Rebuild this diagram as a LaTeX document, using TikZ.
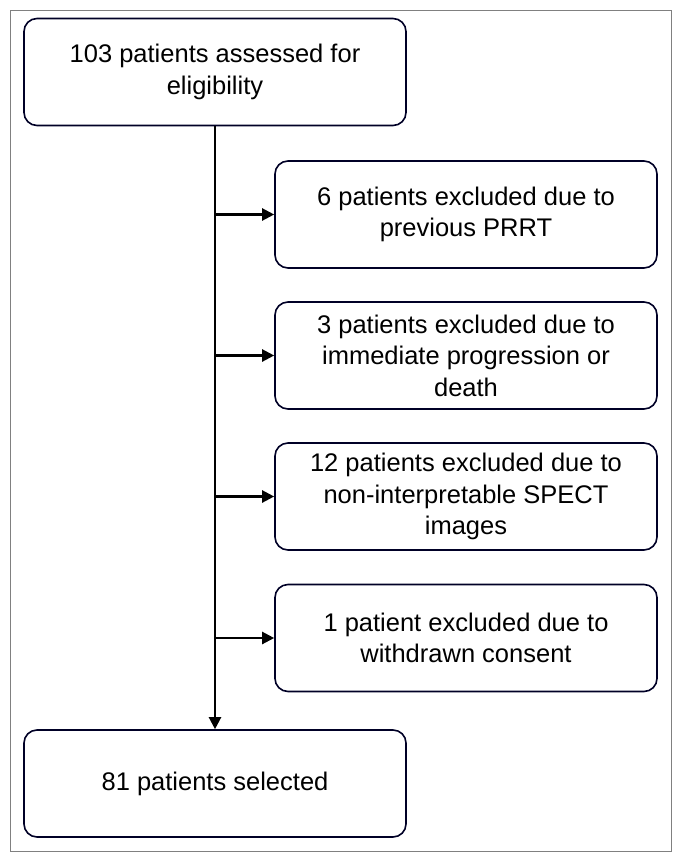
\documentclass[tikz,border=0pt]{standalone}
\usepackage{fontspec}
\setmainfont{Liberation Sans}
\usetikzlibrary{arrows.meta}
\begin{document}
\begin{tikzpicture}[x=1pt,y=-1pt,
  box/.style={draw=black!85!blue,line width=1.6pt,rounded corners=13pt,minimum width=382pt,minimum height=107pt,align=center,font=\fontsize{25.5}{31.5}\selectfont,inner sep=0pt},
  arr/.style={line width=2.2pt,-{Triangle[length=12pt,width=12pt]}}]
\useasboundingbox (0,0) rectangle (681,860);
\draw[gray,line width=0.8pt] (10,10) rectangle (671,851);
\node[box] (a) at (215,72) {103 patients assessed for\\eligibility};
\node[box] (b) at (466,214.5) {6 patients excluded due to\\previous PRRT};
\node[box] (c) at (466,355.5) {3 patients excluded due to\\immediate progression or\\death};
\node[box] (d) at (466,496.5) {12 patients excluded due to\\non-interpretable SPECT\\images};
\node[box] (e) at (466,638) {1 patient excluded due to\\withdrawn consent};
\node[box] (f) at (215,783.5) {81 patients selected};
\draw[arr] (a.south) -- (f.north);
\foreach \n in {b,c,d,e}{
  \coordinate (j\n) at (a.south |- \n.west);
  \draw[arr] (j\n) -- (\n.west);
}
\end{tikzpicture}
\end{document}
